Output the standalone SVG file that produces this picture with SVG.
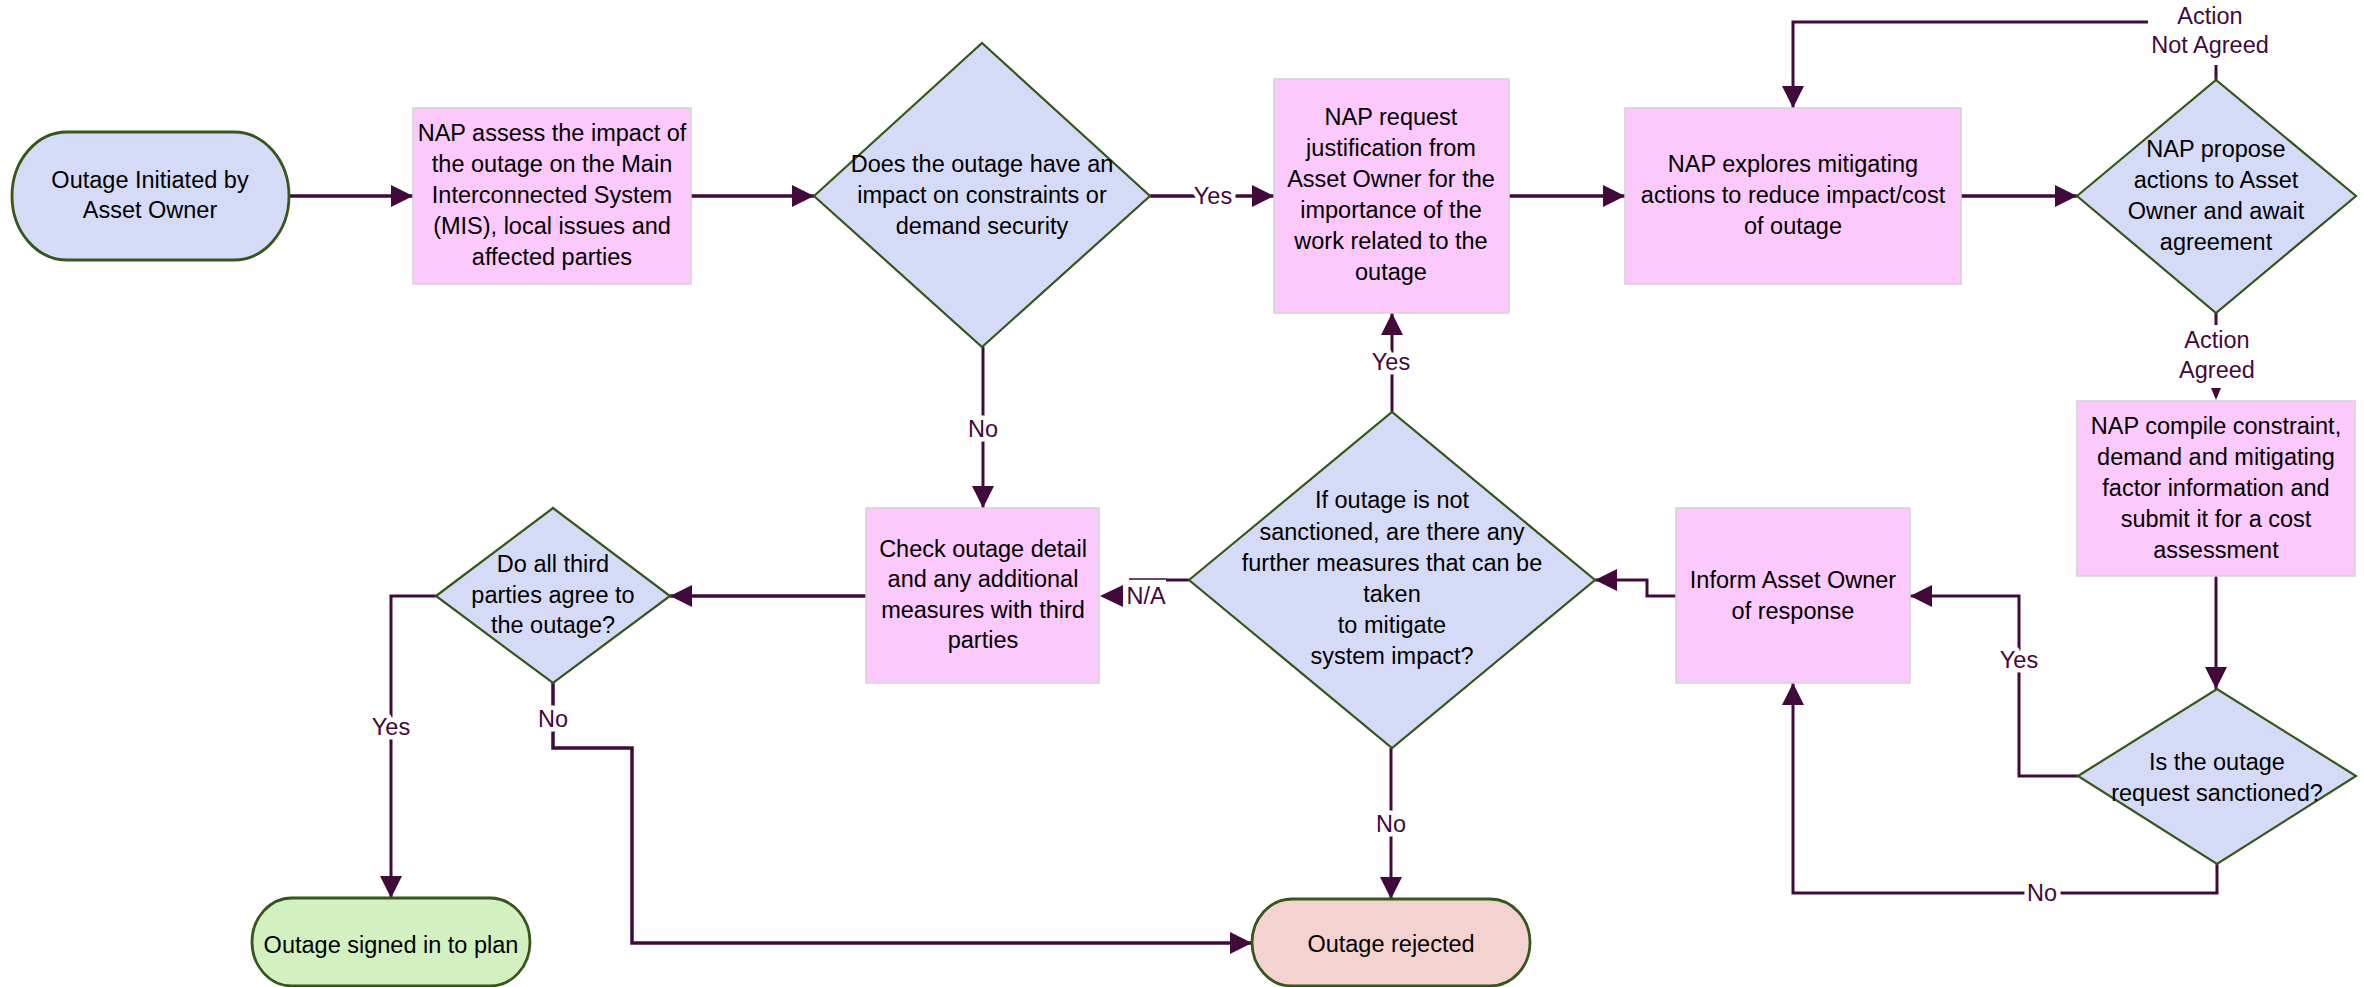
<svg xmlns="http://www.w3.org/2000/svg" width="2364" height="987" viewBox="0 0 2364 987">
<style>
  text { font-family: "Liberation Sans", Arial, sans-serif; font-size: 23.5px; text-anchor: middle; fill: #000; }
  .box { fill: #fcc9fc; stroke: #d6d0d6; stroke-width: 1.5; }
  .dia { fill: #d5dbf7; stroke: #36561c; stroke-width: 2.2; }
  .term { stroke: #36561c; stroke-width: 2.8; }
  .con { fill: none; stroke: #42093b; stroke-width: 3.5; }
  .thin { stroke-width: 3; }
  .lbl { fill: #42093b; paint-order: stroke; stroke: #fff; stroke-width: 9px; stroke-linejoin: round; }
  .head { fill: #42093b; }
</style>
<defs>
  <marker id="arr" markerUnits="userSpaceOnUse" markerWidth="22" markerHeight="22" refX="22" refY="11" orient="auto">
    <path d="M0,0 L22,11 L0,22 z" fill="#42093b"/>
  </marker>
</defs>
<rect width="2364" height="987" fill="#fff"/>

<g id="connectors">
  <path class="con" d="M289,196 H413" marker-end="url(#arr)"/>
  <path class="con" d="M691,196 H814" marker-end="url(#arr)"/>
  <path class="con" d="M1150,196 H1274" marker-end="url(#arr)"/>
  <path class="con" d="M1509,196 H1625" marker-end="url(#arr)"/>
  <path class="con" d="M1961,196 H2077" marker-end="url(#arr)"/>
  <path class="con thin" d="M2216,80 V65"/>
  <path class="con thin" d="M2148,22 H1793 V108" marker-end="url(#arr)"/>
  <path class="con thin" d="M2216,313 V325"/>
  <path class="head" d="M2211,388 L2221,388 L2216,400 z"/>
  <path class="con thin" d="M2216,576 V689" marker-end="url(#arr)"/>
  <path class="con thin" d="M2078,776 H2019 V596 H1910" marker-end="url(#arr)"/>
  <path class="con thin" d="M2217,864 V893 H1793 V683" marker-end="url(#arr)"/>
  <path class="con thin" d="M1676,596 H1647 V580 H1595" marker-end="url(#arr)"/>
  <path class="con thin" d="M1392,412 V313" marker-end="url(#arr)"/>
  <path class="con thin" d="M1391,748 V899" marker-end="url(#arr)"/>
  <path class="con thin" d="M1189,580 H1166"/>
  <path fill="none" stroke="#42093b" stroke-width="1.5" d="M1166,579 H1129"/>
  <path class="head" d="M1100,596 L1123,585 L1123,607 z"/>
  <path class="con thin" d="M983,347 V508" marker-end="url(#arr)"/>
  <path class="con" d="M866,596 H670" marker-end="url(#arr)"/>
  <path class="con thin" d="M436,596 H391 V898" marker-end="url(#arr)"/>
  <path class="con" d="M553,683 V748 H632 V943 H1252" marker-end="url(#arr)"/>

  <text class="lbl" x="1213" y="204">Yes</text>
  <text class="lbl" x="2210" y="24">Action</text>
  <text class="lbl" x="2210" y="53">Not Agreed</text>
  <text class="lbl" x="2217" y="348">Action</text>
  <text class="lbl" x="2217" y="378">Agreed</text>
  <text class="lbl" x="2019" y="668">Yes</text>
  <text class="lbl" x="2042" y="901">No</text>
  <text class="lbl" x="1391" y="370">Yes</text>
  <text class="lbl" x="1391" y="832">No</text>
  <text class="lbl" x="1146" y="604">N/A</text>
  <text class="lbl" x="983" y="437">No</text>
  <text class="lbl" x="391" y="735">Yes</text>
  <text class="lbl" x="553" y="727">No</text>
</g>

<g id="start">
  <rect class="term" x="12" y="132" width="277" height="128" rx="55" ry="64" fill="#d5dbf7"/>
  <text x="150" y="188">Outage Initiated by</text>
  <text x="150" y="218">Asset Owner</text>
</g>

<g id="assess">
  <rect class="box" x="413" y="108" width="278" height="176"/>
  <text x="552" y="141">NAP assess the impact of</text>
  <text x="552" y="172">the outage on the Main</text>
  <text x="552" y="203">Interconnected System</text>
  <text x="552" y="234">(MIS), local issues and</text>
  <text x="552" y="265">affected parties</text>
</g>

<g id="impact-decision">
  <path class="dia" d="M814,196 L982,43 L1150,196 L982,347 z"/>
  <text x="982" y="172">Does the outage have an</text>
  <text x="982" y="203">impact on constraints or</text>
  <text x="982" y="234">demand security</text>
</g>

<g id="justification">
  <rect class="box" x="1274" y="79" width="235" height="234"/>
  <text x="1391" y="125">NAP request</text>
  <text x="1391" y="156">justification from</text>
  <text x="1391" y="187">Asset Owner for the</text>
  <text x="1391" y="218">importance of the</text>
  <text x="1391" y="249">work related to the</text>
  <text x="1391" y="280">outage</text>
</g>

<g id="explore">
  <rect class="box" x="1625" y="108" width="336" height="176"/>
  <text x="1793" y="172">NAP explores mitigating</text>
  <text x="1793" y="203">actions to reduce impact/cost</text>
  <text x="1793" y="234">of outage</text>
</g>

<g id="propose">
  <path class="dia" d="M2077,196 L2216,80 L2356,196 L2216,313 z"/>
  <text x="2216" y="157">NAP propose</text>
  <text x="2216" y="188">actions to Asset</text>
  <text x="2216" y="219">Owner and await</text>
  <text x="2216" y="250">agreement</text>
</g>

<g id="compile">
  <rect class="box" x="2077" y="401" width="278" height="175"/>
  <text x="2216" y="434">NAP compile constraint,</text>
  <text x="2216" y="465">demand and mitigating</text>
  <text x="2216" y="496">factor information and</text>
  <text x="2216" y="527">submit it for a cost</text>
  <text x="2216" y="558">assessment</text>
</g>

<g id="sanctioned">
  <path class="dia" d="M2078,776 L2217,689 L2356,776 L2217,864 z"/>
  <text x="2217" y="770">Is the outage</text>
  <text x="2217" y="801">request sanctioned?</text>
</g>

<g id="inform">
  <rect class="box" x="1676" y="508" width="234" height="175"/>
  <text x="1793" y="588">Inform Asset Owner</text>
  <text x="1793" y="619">of response</text>
</g>

<g id="further-measures">
  <path class="dia" d="M1189,580 L1392,412 L1595,580 L1392,748 z"/>
  <text x="1392" y="508">If outage is not</text>
  <text x="1392" y="540">sanctioned, are there any</text>
  <text x="1392" y="571">further measures that can be</text>
  <text x="1392" y="602">taken</text>
  <text x="1392" y="633">to mitigate</text>
  <text x="1392" y="664">system impact?</text>
</g>

<g id="check">
  <rect class="box" x="866" y="508" width="233" height="175"/>
  <text x="983" y="557">Check outage detail</text>
  <text x="983" y="587">and any additional</text>
  <text x="983" y="618">measures with third</text>
  <text x="983" y="648">parties</text>
</g>

<g id="third-parties">
  <path class="dia" d="M436,596 L553,508 L670,596 L553,683 z"/>
  <text x="553" y="572">Do all third</text>
  <text x="553" y="603">parties agree to</text>
  <text x="553" y="633">the outage?</text>
</g>

<g id="signed">
  <rect class="term" x="252" y="898" width="278" height="88" rx="40" ry="44" fill="#d3f0c0"/>
  <text x="391" y="953">Outage signed in to plan</text>
</g>

<g id="rejected">
  <rect class="term" x="1252" y="899" width="278" height="87" rx="40" ry="44" fill="#f3d2d0"/>
  <text x="1391" y="952">Outage rejected</text>
</g>
</svg>
